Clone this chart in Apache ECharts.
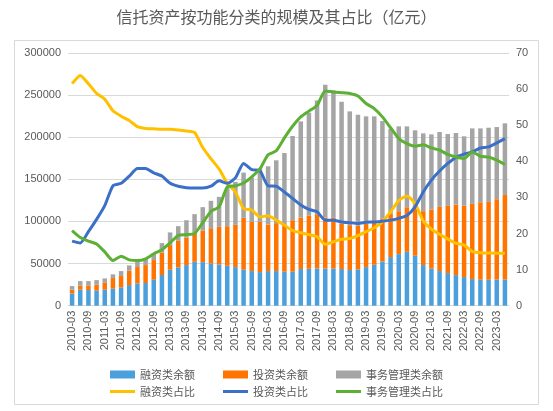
<!DOCTYPE html>
<html>
<head>
<meta charset="utf-8">
<script src="https://cdn.jsdelivr.net/npm/echarts@6/dist/echarts.min.js"></script>
<style>
html,body{margin:0;padding:0;background:#fff;}
#chart{width:553px;height:411px;}
</style>
</head>
<body>
<div id="chart"></div>
<script>
const categories = [
  '2010-03','2010-06','2010-09','2010-12','2011-03','2011-06','2011-09','2011-12',
  '2012-03','2012-06','2012-09','2012-12','2013-03','2013-06','2013-09','2013-12',
  '2014-03','2014-06','2014-09','2014-12','2015-03','2015-06','2015-09','2015-12',
  '2016-03','2016-06','2016-09','2016-12','2017-03','2017-06','2017-09','2017-12',
  '2018-03','2018-06','2018-09','2018-12','2019-03','2019-06','2019-09','2019-12',
  '2020-03','2020-06','2020-09','2020-12','2021-03','2021-06','2021-09','2021-12',
  '2022-03','2022-06','2022-09','2022-12','2023-03','2023-06'
];
// 融资类余额
const financing = [
  14600,19000,18600,17800,19000,20200,21700,24500,
  26500,26900,30800,36400,42700,45400,48200,52100,
  51700,50200,49000,47400,45800,42700,41100,39900,
  41100,41100,40300,40300,43500,43800,44200,44200,
  44200,43500,42300,43100,45800,48600,52500,57700,
  61200,64000,59300,48200,44200,41100,38700,36300,
  34000,31600,30800,30800,31200,31200
];
// 投资类余额
const investment = [
  4400,4700,5500,7100,8700,12600,13500,17000,
  19400,21300,23400,26800,29200,31600,32800,35000,
  37600,41800,44600,47000,50200,61600,58400,59600,
  55300,56900,56100,61200,61200,62900,64400,60500,
  60100,54100,53300,51700,51800,50900,51000,51700,
  51000,52900,59700,64000,70000,76200,79800,83800,
  84900,89300,92000,92400,95200,100300
];
// 事务管理类余额
const affairs = [
  4300,5500,5100,5500,4700,4400,5900,6300,
  7500,7500,7900,11100,15100,17400,20500,21600,
  27700,32500,35600,45400,51000,53700,52500,63200,
  69100,74600,84900,100000,114100,122400,135100,157600,
  151300,144500,135100,131900,127200,125300,115700,100600,
  100700,96000,89200,92400,89200,88900,85300,84900,
  82200,89600,87700,88100,85700,85000
];
// 融资类占比
const financingPct = [
  61.5,63.8,61.5,58.8,57.2,54.0,52.5,51.3,
  49.6,49.1,49.0,48.9,48.9,48.7,48.4,48.0,
  43.8,40.7,37.9,33.9,31.5,26.9,26.5,24.6,
  24.9,23.7,22.3,20.8,20.2,19.7,19.1,17.0,
  17.7,18.4,18.6,19.4,20.5,21.6,23.2,26.0,
  29.1,30.4,28.3,23.5,21.2,19.8,18.5,17.3,
  16.8,15.0,14.7,14.6,14.5,14.5
];
// 投资类占比
const investmentPct = [
  17.9,17.4,20.5,23.9,27.7,33.2,33.9,35.9,
  38.0,38.0,36.8,35.9,33.9,33.1,32.7,32.6,
  32.6,33.1,34.6,33.9,35.4,39.4,37.7,37.4,
  33.2,33.1,31.5,29.7,27.9,26.7,26.0,23.7,
  23.7,23.2,23.0,22.8,23.1,23.2,23.4,23.7,
  24.2,25.0,27.4,31.5,34.8,37.3,39.4,41.1,
  42.0,42.6,43.7,44.0,45.1,46.3
];
// 事务管理类占比
const affairsPct = [
  20.8,18.9,17.9,17.1,14.9,12.5,13.7,12.7,
  12.5,13.0,14.4,15.5,17.4,19.5,19.7,20.0,
  23.0,26.1,27.4,32.9,33.2,34.0,35.7,37.9,
  41.8,42.9,46.5,49.7,52.3,53.9,55.5,59.5,
  59.2,59.0,58.8,58.1,56.0,54.6,52.3,49.3,
  46.3,44.9,44.2,44.6,43.7,43.1,41.9,41.2,
  40.8,42.6,41.4,41.2,40.3,39.1
];
const leftTicks = {min: 0, max: 300000, interval: 50000};
const rightTicks = {min: 0, max: 70, interval: 10};

const chart = echarts.init(document.getElementById('chart'), null, {renderer: 'canvas'});
const txt = '#595959';
const cjk = '"Noto Sans CJK SC", "Noto Sans", sans-serif';
const num = '"Liberation Sans", Arial, sans-serif';

function barSeries(name, data, color) {
  return {
    name: name, type: 'bar', stack: 'total', data: data,
    barWidth: 4.5, itemStyle: {color: color}, yAxisIndex: 0, z: 2
  };
}
function lineSeries(name, data, color) {
  return {
    name: name, type: 'line', data: data, yAxisIndex: 1,
    symbol: 'none', smooth: 0.2,
    lineStyle: {color: color, width: 3}, itemStyle: {color: color}, z: 3
  };
}

chart.setOption({
  animation: false,
  backgroundColor: '#fff',
  title: {
    text: '信托资产按功能分类的规模及其占比（亿元）',
    left: 'center', top: 4,
    textStyle: {fontSize: 16, fontWeight: 'normal', color: txt, fontFamily: cjk}
  },
  graphic: [{
    type: 'rect', z: -10, silent: true,
    shape: {x: 14.5, y: 40.5, width: 524, height: 364},
    style: {fill: 'none', stroke: '#d9d9d9', lineWidth: 1}
  }],
  legend: [
    {
      data: [
        {name: '融资类余额', icon: 'rect'},
        {name: '投资类余额', icon: 'rect'},
        {name: '事务管理类余额', icon: 'rect'}
      ],
      left: 'center', top: 364, itemWidth: 25, itemHeight: 8, itemGap: 28,
      textStyle: {fontSize: 11, color: txt, fontFamily: cjk}
    },
    {
      data: [
        {name: '融资类占比', icon: 'rect'},
        {name: '投资类占比', icon: 'rect'},
        {name: '事务管理类占比', icon: 'rect'}
      ],
      left: 'center', top: 381, itemWidth: 25, itemHeight: 3, itemGap: 28,
      textStyle: {fontSize: 11, color: txt, fontFamily: cjk}
    }
  ],
  grid: {left: 68, right: 44, top: 53, bottom: 105.3, containLabel: false},
  xAxis: {
    type: 'category', data: categories, boundaryGap: true,
    axisLine: {show: true, lineStyle: {color: '#d9d9d9'}},
    axisTick: {show: false},
    axisLabel: {interval: 1, rotate: 90, fontSize: 11, color: txt, fontFamily: num, margin: 5}
  },
  yAxis: [
    {
      type: 'value', min: leftTicks.min, max: leftTicks.max, interval: leftTicks.interval,
      axisLine: {show: false}, axisTick: {show: false},
      splitLine: {lineStyle: {color: '#d9d9d9'}},
      axisLabel: {fontSize: 11, color: txt, fontFamily: num, margin: 7,
        formatter: function (v) { return String(v); }}
    },
    {
      type: 'value', min: rightTicks.min, max: rightTicks.max, interval: rightTicks.interval,
      axisLine: {show: false}, axisTick: {show: false},
      splitLine: {show: false},
      axisLabel: {fontSize: 11, color: txt, fontFamily: num, margin: 7,
        formatter: function (v) { return String(v); }}
    }
  ],
  series: [
    barSeries('融资类余额', financing, '#4A9FDC'),
    barSeries('投资类余额', investment, '#FF7300'),
    barSeries('事务管理类余额', affairs, '#A5A5A5'),
    lineSeries('融资类占比', financingPct, '#FFC000'),
    lineSeries('投资类占比', investmentPct, '#3A70C8'),
    lineSeries('事务管理类占比', affairsPct, '#5CB034')
  ]
});
</script>
</body>
</html>
